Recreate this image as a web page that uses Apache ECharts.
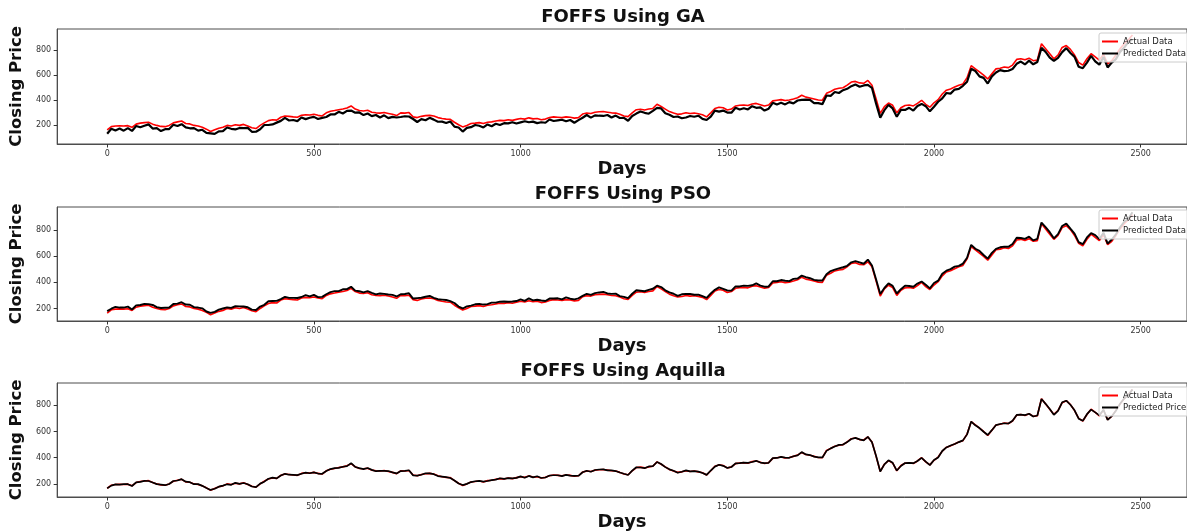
<!DOCTYPE html>
<html>
<head>
<meta charset="utf-8">
<title>FOFFS closing price predictions</title>
<script src="https://cdn.jsdelivr.net/npm/echarts@6/dist/echarts.min.js"></script>
<style>
  html, body { margin: 0; padding: 0; background: #fff; }
  #chart { width: 1187px; height: 532px; }
</style>
</head>
<body>
<div id="chart"></div>
<script>
// Sampling step (days) between consecutive stored closing prices
const STEP = 10;

// Actual FOFFS closing price, one value every STEP days starting at day 0
const actual = [
  165,190,195,197,195,198,185,210,218,222,
  225,210,200,192,190,200,220,228,235,215,
  212,200,195,185,170,152,165,178,185,200,
  195,205,200,208,195,182,175,200,220,238,
  245,242,265,275,272,268,265,280,285,283,
  288,280,275,300,312,318,325,330,338,355,
  330,318,315,320,305,300,298,302,295,288,
  278,300,298,302,268,262,272,278,280,275,
  262,255,250,248,225,205,188,200,215,218,
  222,215,225,228,235,240,238,245,240,248,
  255,250,260,252,255,245,250,262,268,265,
  262,268,265,258,262,290,298,295,305,308,
  310,305,300,298,288,275,270,300,325,328,
  322,330,335,368,350,330,310,298,288,292,
  300,295,298,292,285,268,300,335,345,340,
  322,330,355,360,362,358,370,375,365,355,
  362,395,400,405,398,402,410,420,440,425,
  418,410,402,400,455,470,488,495,500,520,
  545,550,538,535,558,520,410,295,350,378,
  360,300,340,358,362,355,375,400,368,345,
  380,405,450,480,490,505,520,530,580,675,
  650,625,600,570,610,650,655,665,660,680,
  725,730,722,735,715,720,850,810,770,730,
  760,820,835,805,760,700,680,730,770,745,
  720,765,690,715,760,810,850,880,920
];

// Predicted closing price, GA-tuned model
const predGA = [
  134,173,160,175,158,178,156,195,185,197,
  208,175,178,155,170,171,205,195,210,184,
  177,178,158,165,141,137,132,153,154,183,
  173,168,180,179,180,149,150,169,203,203,
  208,222,236,260,239,243,234,263,250,261,
  268,251,260,267,287,287,308,295,316,318,
  301,303,282,295,274,283,263,280,258,268,
  263,267,273,271,251,227,250,241,260,246,
  229,230,219,231,190,183,151,180,186,203,
  197,184,208,193,213,203,218,216,225,215,
  224,233,225,230,218,225,221,247,235,240,
  245,233,243,221,242,261,283,262,280,277,
  275,283,263,278,259,260,237,275,294,311,
  300,293,315,339,335,297,285,267,271,257,
  263,275,269,277,252,243,269,318,310,318,
  302,301,340,327,337,327,353,340,343,318,
  333,380,367,380,367,385,375,398,403,405,
  403,377,377,369,438,435,466,458,480,491,
  512,525,507,518,523,498,373,262,321,363,
  335,269,323,323,340,318,355,371,353,312,
  349,388,415,458,453,485,491,515,547,650,
  633,590,578,533,590,621,640,632,635,649,
  690,708,685,715,686,705,817,785,739,713,
  738,783,815,776,745,667,655,699,753,710,
  683,745,661,700,727,785,819,863,885
];

// Predicted closing price, PSO-tuned model
const predPSO = [
  180,198,212,207,207,214,192,224,227,235,
  233,227,210,204,206,207,234,237,248,230,
  229,210,207,201,177,166,174,191,200,208,
  205,217,216,215,209,191,188,215,228,255,
  257,258,272,289,281,281,280,288,302,293,
  304,287,289,309,325,333,333,347,348,367,
  337,332,324,333,320,308,315,312,307,304,
  292,309,311,317,276,279,282,290,296,282,
  271,268,265,256,242,215,200,216,222,232,
  235,230,233,245,245,252,254,252,254,257,
  270,258,277,262,267,261,257,276,277,278,
  270,285,275,270,278,297,312,304,318,323,
  327,315,312,314,295,289,279,313,340,336,
  332,342,351,375,364,339,323,313,296,309,
  312,311,305,306,294,281,315,343,362,350,
  338,337,369,369,375,373,378,392,375,367,
  369,409,409,418,413,410,427,430,452,441,
  432,419,415,415,463,487,498,507,516,527,
  554,563,553,543,575,530,422,311,357,392,
  373,315,348,375,372,367,391,407,382,354,
  395,413,467,490,502,521,527,544,589,688,
  658,642,610,582,626,657,669,674,673,695,
  742,740,734,751,722,734,859,823,785,738,
  770,832,851,812,774,709,693,745,778,762,
  732,781,697,729,769,823,865,888,937
];

// Predicted closing price, Aquilla-tuned model
const predAquilla = [
  167,187,196,195,198,198,184,212,216,223,
  222,211,198,195,190,199,222,226,236,217,
  213,198,198,185,169,154,163,179,187,197,
  193,208,200,207,197,180,176,202,217,239,
  248,242,264,277,270,269,267,277,286,281,
  288,279,277,298,313,320,322,331,336,358,
  329,320,313,321,307,297,299,300,298,288,
  280,298,299,304,265,263,270,281,280,274,
  260,256,252,245,226,203,191,200,214,220,
  223,217,222,229,233,243,238,244,242,246,
  257,247,261,250,258,245,249,264,266,266,
  259,269,263,261,262,289,300,293,306,310,
  311,303,303,298,287,277,268,301,327,325,
  320,333,335,367,352,328,311,300,285,293,
  303,295,297,294,283,269,302,332,346,338,
  322,329,357,358,363,360,367,376,363,358,
  361,397,398,406,400,399,411,418,443,425,
  420,408,403,402,452,471,486,498,500,519,
  543,551,540,532,559,518,413,295,349,380,
  361,302,337,359,360,358,375,399,370,343,
  382,402,451,478,493,505,519,532,578,676,
  647,626,598,573,610,649,657,663,661,682,
  726,728,725,735,714,722,848,811,772,727,
  758,823,835,804,762,698,681,732,767,746,
  723,765,689,717,758,811,852,877,921
];

const panelTitles = ['FOFFS Using GA', 'FOFFS Using PSO', 'FOFFS Using Aquilla'];
const predictedNames = ['Predicted Data', 'Predicted Data', 'Predicted Price'];
const xTickValues = [0, 500, 1000, 1500, 2000, 2500];
const yTickValues = [200, 400, 600, 800];
const yRanges = [[52, 967], [104, 978], [100, 970]];

const days = actual.map((_, i) => i * STEP);
const toPoints = arr => arr.map((v, i) => [days[i], v]);
const predictions = [predGA, predPSO, predAquilla];

const FONT = 'DejaVu Sans';
const gridTops = [29, 207, 383];
const gridHeights = [115, 114, 116];
const titleTops = [8, 185, 362];
const legendTops = [33, 210, 387];
const predictedWidths = [2.2, 1.9, 1.7];

const grids = [], xAxes = [], yAxes = [], series = [], titles = [], legends = [];

for (let k = 0; k < 3; k++) {
  grids.push({
    left: 54, right: -6, top: gridTops[k], height: gridHeights[k],
    show: true, borderColor: '#4d4d4d', borderWidth: 1, backgroundColor: '#fff',
    containLabel: false
  });
  xAxes.push({
    type: 'value', gridIndex: k, min: -121, max: 2612,
    name: 'Days', nameLocation: 'middle', nameGap: 16,
    nameTextStyle: { fontFamily: FONT, fontWeight: 'bold', fontSize: 18, color: '#111' },
    axisLine: { show: true, onZero: false, lineStyle: { color: '#4d4d4d', width: 1 } },
    axisTick: { show: true, length: 3.5, lineStyle: { color: '#333' }, customValues: xTickValues },
    axisLabel: {
      fontFamily: FONT, fontSize: 8, color: '#333', margin: 6,
      customValues: xTickValues, formatter: v => String(v)
    },
    splitLine: { show: false }
  });
  yAxes.push({
    type: 'value', gridIndex: k, min: yRanges[k][0], max: yRanges[k][1],
    name: 'Closing Price', nameLocation: 'middle', nameGap: 25, nameRotate: 90,
    nameTextStyle: { fontFamily: FONT, fontWeight: 'bold', fontSize: 16.5, color: '#111' },
    axisLine: { show: true, onZero: false, lineStyle: { color: '#4d4d4d', width: 1 } },
    axisTick: { show: true, length: 3.5, lineStyle: { color: '#333' }, customValues: yTickValues },
    axisLabel: {
      fontFamily: FONT, fontSize: 8, color: '#333', margin: 6,
      customValues: yTickValues, formatter: v => String(v)
    },
    splitLine: { show: false }
  });
  series.push({
    name: 'Actual Data', type: 'line', xAxisIndex: k, yAxisIndex: k,
    data: toPoints(actual), showSymbol: false, color: '#ff0000',
    lineStyle: { color: '#ff0000', width: 1.6 }, z: 2
  });
  series.push({
    name: predictedNames[k], type: 'line', xAxisIndex: k, yAxisIndex: k,
    data: toPoints(predictions[k]), showSymbol: false, color: '#000000',
    lineStyle: { color: '#000000', width: predictedWidths[k] }, z: 3
  });
  titles.push({
    text: panelTitles[k], left: 623, top: titleTops[k], textAlign: 'center', padding: 0,
    textStyle: { fontFamily: FONT, fontWeight: 'bold', fontSize: 18, color: '#111' }
  });
  legends.push({
    orient: 'vertical', left: 1099, top: legendTops[k],
    data: ['Actual Data', predictedNames[k]],
    icon: 'rect', itemWidth: 16, itemHeight: 2, itemGap: 3,
    padding: [4, 4, 4, 3],
    backgroundColor: 'rgba(255,255,255,0.8)', borderColor: '#cccccc', borderWidth: 1, borderRadius: 2,
    textStyle: { fontFamily: FONT, fontSize: 8.5, color: '#222' },
    selectedMode: false, z: 10
  });
}

const chart = echarts.init(document.getElementById('chart'), null, { renderer: 'canvas' });
chart.setOption({
  animation: false,
  backgroundColor: '#fff',
  title: titles,
  legend: legends,
  grid: grids,
  xAxis: xAxes,
  yAxis: yAxes,
  series: series
});
</script>
</body>
</html>
